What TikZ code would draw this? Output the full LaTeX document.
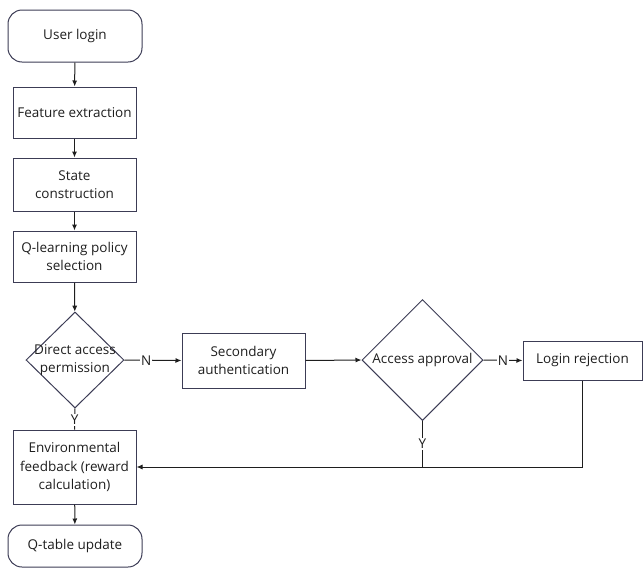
\documentclass[tikz,border=0pt]{standalone}
\usepackage{fontspec}
\setmainfont{Open Sans}
\usetikzlibrary{shapes.geometric,arrows.meta,positioning,calc}
\definecolor{edge}{HTML}{3C3C55}
\definecolor{ink}{HTML}{1E1E1E}

\begin{document}
\begin{tikzpicture}[x=1pt, y=-1pt,
    term/.style={draw=edge, line width=1pt, rounded corners=14pt, minimum width=134pt, align=center, text=ink, font=\fontsize{13.5}{18.5}\selectfont},
    proc/.style={draw=edge, line width=1pt, minimum width=123pt, align=center, text=ink, font=\fontsize{13.5}{18.5}\selectfont, inner sep=1pt},
    decision/.style={draw=edge, line width=1pt, diamond, inner sep=0pt, text=ink, font=\fontsize{13.5}{18.5}\selectfont},
    flow/.style={draw=ink, line width=1pt},
    yn/.style={fill=white, inner sep=1pt, text=ink, font=\fontsize{13.5}{15}\selectfont}
]
    \useasboundingbox (0,0) rectangle (643,568);

    \node[term, minimum height=52pt] (login) at (75,36) {User login};
    \node[proc, minimum height=51pt] (feat) at (74.5,112.5) {Feature extraction};
    \node[proc, minimum height=53pt] (state) at (74.5,184.5) {State\\construction};
    \node[proc, minimum height=51pt] (qsel) at (74.5,256.5) {Q-learning policy\\selection};
    \node[decision, minimum width=98pt, minimum height=96pt, label={[align=center, text=ink, font=\fontsize{13.5}{18.5}\selectfont]center:Direct access\\permission}] (direct) at (75,360) {};
    \node[proc, minimum height=55pt] (second) at (243.5,360.5) {Secondary\\authentication};
    \node[decision, minimum width=121pt, minimum height=121pt, label={[text=ink, font=\fontsize{13.5}{18.5}\selectfont]center:Access approval}] (approve) at (422.5,360) {};
    \node[proc, minimum width=119pt, minimum height=39pt] (reject) at (582.5,360.5) {Login rejection};
    \node[proc, minimum height=74pt] (env) at (74.5,467) {Environmental\\feedback (reward\\calculation)};
    \node[term, minimum height=42pt] (qtab) at (75,546) {Q-table update};

    \draw[flow, -{Latex[length=6pt,width=5pt]}] (login) -- (feat);
    \draw[flow, -{Latex[length=6pt,width=5pt]}] (feat) -- (state);
    \draw[flow, -{Latex[length=6pt,width=5pt]}] (state) -- (qsel);
    \draw[flow, -{Latex[length=6pt,width=5pt]}] (qsel) -- (direct);
    \draw[flow, -{Latex[length=6pt,width=5pt]}] (direct.east) -- (second.west) node[yn, pos=0.38] {N};
    \draw[flow, -{Latex[length=6pt,width=5pt]}] (second.east) -- (approve.west);
    \draw[flow, -{Latex[length=6pt,width=5pt]}] (approve.east) -- (reject.west) node[yn, pos=0.5] {N};
    \draw[flow] (direct.south) -- (env.north) node[yn, pos=0.55] {Y};
    \coordinate (join) at (approve.south |- env.east);
    \draw[flow] (approve.south) -- (join) node[yn, pos=0.5] {Y};
    \draw[flow, -{Latex[length=6pt,width=5pt]}] (reject.south) |- (env.east);
    \draw[flow, -{Latex[length=6pt,width=5pt]}] (env) -- (qtab);
\end{tikzpicture}
\end{document}
